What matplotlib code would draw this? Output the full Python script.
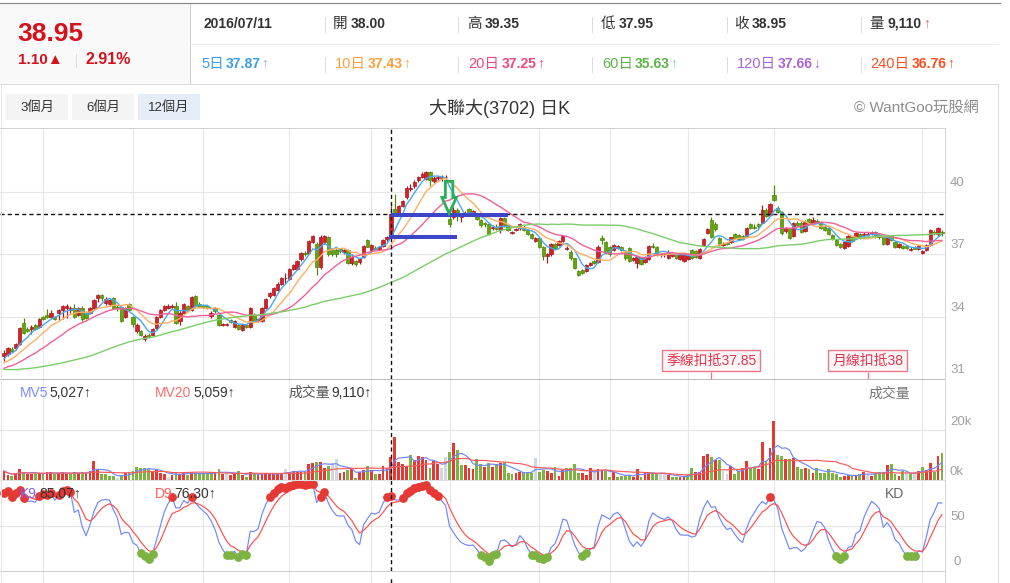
import numpy as np
import pandas as pd
import matplotlib
matplotlib.use('Agg')
import matplotlib.pyplot as plt
from matplotlib.lines import Line2D
from matplotlib.patches import Rectangle, Polygon

W, H = 1010, 583
FAM = ['Liberation Sans', 'Noto Sans CJK TC', 'DejaVu Sans']
plt.rcParams['font.family'] = FAM

# ---------------- data ----------------
opens = [
32.10, 32.20, 32.45, 32.50, 32.70, 33.70, 33.40, 33.40, 33.60, 33.50,
34.00, 34.10, 34.00, 34.00, 34.20, 34.30, 34.40, 34.30, 34.40, 34.10,
34.40, 34.20, 34.20, 34.40, 34.90, 35.05, 34.65, 34.60, 34.90, 34.45,
34.45, 34.00, 34.60, 34.00, 33.30, 33.30, 32.90, 33.10, 33.10, 33.45,
34.00, 34.30, 34.40, 34.48, 34.50, 33.80, 34.20, 34.50, 34.30, 35.00,
34.60, 34.55, 34.50, 34.05, 34.40, 34.10, 33.60, 33.60, 33.82, 33.50,
33.60, 33.38, 33.60, 33.50, 34.10, 33.80, 33.80, 34.40, 34.98, 35.06,
35.30, 35.60, 35.85, 35.80, 36.30, 36.30, 36.77, 37.08, 37.09, 37.60,
37.50, 36.40, 37.60, 37.85, 37.20, 37.20, 37.25, 37.10, 37.20, 36.60,
36.70, 36.66, 36.90, 37.70, 37.20, 37.30, 37.25, 37.40, 37.75, 38.00,
39.20, 39.00, 39.33, 39.78, 40.15, 40.29, 40.58, 40.74, 40.66, 40.98,
40.54, 40.68, 40.70, 40.72, 38.70, 38.80, 39.17, 38.80, 38.93, 39.20,
38.98, 38.90, 38.66, 38.50, 38.46, 38.28, 38.35, 38.18, 38.74, 38.40,
38.06, 38.20, 38.26, 38.33, 38.20, 38.00, 37.66, 37.78, 37.38, 36.93,
37.00, 37.50, 37.46, 37.66, 37.28, 37.14, 36.82, 36.20, 36.25, 36.20,
36.50, 36.70, 36.66, 37.78, 37.60, 37.38, 37.22, 37.30, 37.35, 37.10,
37.30, 36.75, 36.58, 36.85, 36.66, 36.80, 37.40, 37.38, 36.97, 37.00,
36.85, 36.95, 37.00, 36.80, 36.70, 36.80, 37.20, 37.18, 36.85, 37.46,
38.05, 38.66, 38.46, 37.78, 37.45, 37.55, 37.60, 38.00, 37.94, 37.90,
37.90, 38.46, 38.35, 38.46, 38.50, 39.17, 38.90, 39.86, 39.26, 39.06,
38.14, 38.26, 37.90, 38.53, 38.53, 38.14, 38.70, 38.55, 38.62, 38.53,
38.34, 38.26, 37.94, 37.70, 37.50, 37.30, 37.40, 37.82, 37.82, 38.00,
37.94, 37.94, 37.98, 38.10, 37.94, 37.86, 37.50, 37.90, 37.62, 37.34,
37.42, 37.42, 37.20, 37.38, 37.25, 37.06, 37.22, 37.46, 38.10, 37.97,
38.10]

highs = [
32.40, 32.55, 32.55, 32.75, 33.50, 33.95, 33.50, 33.60, 33.65, 33.95,
34.05, 34.35, 34.30, 34.05, 34.35, 34.55, 34.60, 34.50, 34.60, 34.45,
34.50, 34.25, 34.45, 34.85, 35.10, 35.10, 34.95, 34.85, 34.95, 34.55,
34.50, 34.45, 34.65, 34.05, 33.70, 33.35, 33.15, 33.20, 33.45, 34.05,
34.35, 34.55, 34.60, 34.60, 34.70, 34.25, 34.65, 34.55, 35.00, 35.05,
34.70, 34.60, 34.55, 34.25, 34.45, 34.15, 33.70, 33.70, 33.90, 33.85,
33.65, 33.65, 33.65, 34.45, 34.20, 33.95, 34.45, 34.90, 35.20, 35.45,
35.65, 35.90, 36.10, 36.35, 36.55, 36.75, 37.10, 37.15, 37.70, 37.95,
37.60, 37.95, 37.95, 37.90, 37.30, 37.30, 37.30, 37.25, 37.25, 37.00,
36.75, 36.85, 37.45, 37.75, 37.50, 37.40, 37.40, 37.75, 37.90, 39.35,
39.94, 39.40, 39.65, 40.30, 40.40, 40.60, 40.80, 41.00, 41.05, 41.05,
40.80, 40.80, 40.85, 40.85, 39.30, 39.30, 39.25, 39.00, 39.10, 39.25,
39.15, 38.95, 38.70, 38.55, 38.50, 38.40, 38.45, 38.80, 38.80, 38.45,
38.15, 38.30, 38.50, 38.40, 38.25, 38.05, 37.85, 37.85, 37.40, 37.05,
37.55, 37.55, 37.70, 37.95, 37.40, 37.20, 36.85, 36.25, 36.30, 36.55,
36.65, 36.75, 37.45, 37.95, 37.65, 37.40, 37.50, 37.45, 37.40, 37.15,
37.35, 36.90, 36.95, 36.90, 36.95, 37.45, 37.55, 37.40, 37.05, 37.05,
37.20, 37.05, 37.05, 37.00, 37.05, 37.00, 37.25, 37.20, 37.30, 37.80,
38.30, 38.80, 38.55, 37.85, 37.60, 37.60, 37.85, 38.05, 37.98, 37.95,
38.35, 38.50, 38.45, 38.50, 39.40, 39.25, 39.50, 40.34, 39.35, 39.10,
38.35, 38.30, 38.55, 38.60, 38.60, 38.65, 38.75, 38.80, 38.70, 38.60,
38.40, 38.30, 37.98, 37.75, 37.55, 37.65, 37.95, 37.90, 38.10, 38.05,
38.10, 38.10, 38.15, 38.15, 37.98, 37.90, 37.95, 37.95, 37.65, 37.55,
37.45, 37.45, 37.35, 37.40, 37.45, 37.20, 37.50, 38.25, 38.20, 38.35,
38.20]

lows = [
31.85, 32.10, 32.30, 32.40, 32.65, 33.15, 33.25, 33.15, 33.35, 33.45,
33.85, 33.95, 33.95, 33.85, 33.85, 33.90, 33.95, 34.20, 33.95, 34.05,
33.80, 33.90, 34.15, 34.35, 34.70, 34.75, 34.55, 34.50, 34.40, 34.25,
33.75, 33.95, 34.25, 33.50, 33.20, 33.05, 32.85, 32.95, 33.05, 33.40,
33.95, 34.25, 34.35, 34.40, 33.65, 33.60, 34.15, 34.25, 34.25, 34.45,
34.45, 34.40, 34.35, 33.95, 34.20, 33.55, 33.55, 33.55, 33.70, 33.45,
33.35, 33.30, 33.45, 33.45, 33.75, 33.75, 33.75, 34.35, 34.90, 35.00,
35.25, 35.55, 35.60, 35.75, 36.25, 36.25, 36.70, 36.95, 37.05, 37.55,
36.00, 36.30, 37.50, 36.95, 36.95, 36.90, 37.05, 37.00, 36.55, 36.50,
36.45, 36.55, 36.85, 37.35, 37.10, 37.20, 37.20, 37.35, 37.65, 37.95,
38.90, 38.95, 39.30, 39.70, 40.05, 40.20, 40.50, 40.70, 40.60, 40.30,
40.45, 40.55, 40.55, 40.55, 38.35, 38.70, 38.60, 38.55, 38.85, 38.90,
38.85, 38.65, 38.35, 38.35, 37.95, 38.20, 38.20, 38.05, 38.35, 38.15,
38.00, 38.15, 38.20, 38.15, 37.95, 37.75, 37.60, 37.30, 36.75, 36.60,
36.95, 37.25, 37.40, 37.60, 37.20, 36.75, 36.30, 35.95, 36.05, 36.15,
36.45, 36.55, 36.60, 37.50, 37.00, 36.95, 37.15, 37.25, 37.15, 36.75,
36.65, 36.70, 36.35, 36.50, 36.60, 36.75, 37.30, 36.95, 36.90, 36.90,
36.80, 36.90, 36.80, 36.75, 36.65, 36.75, 36.80, 36.85, 36.80, 37.40,
38.00, 37.80, 38.15, 37.40, 37.40, 37.45, 37.55, 37.75, 37.70, 37.70,
37.85, 38.25, 38.25, 38.30, 38.45, 38.80, 38.85, 39.60, 39.00, 37.95,
38.05, 37.75, 37.85, 38.35, 38.05, 38.10, 38.45, 38.50, 38.50, 38.25,
38.15, 37.95, 37.70, 37.40, 37.30, 37.25, 37.35, 37.60, 37.75, 37.75,
37.90, 37.90, 37.95, 37.80, 37.75, 37.45, 37.45, 37.65, 37.30, 37.30,
37.25, 37.25, 37.15, 37.25, 37.20, 37.00, 37.15, 37.40, 37.95, 37.90,
37.90]

closes = [
32.26, 32.50, 32.35, 32.70, 33.45, 33.20, 33.30, 33.50, 33.40, 33.90,
33.88, 34.00, 34.20, 33.90, 34.30, 34.50, 34.52, 34.40, 34.00, 34.40,
33.90, 33.95, 34.40, 34.80, 35.05, 34.90, 34.85, 34.80, 34.40, 34.40,
33.80, 34.40, 34.30, 33.65, 33.60, 33.10, 33.05, 33.00, 33.40, 34.00,
34.30, 34.50, 34.50, 34.52, 33.70, 34.20, 34.60, 34.30, 34.95, 34.50,
34.48, 34.45, 34.40, 34.20, 34.25, 33.60, 33.65, 33.65, 33.75, 33.80,
33.40, 33.58, 33.50, 34.40, 33.80, 33.90, 34.40, 34.85, 35.14, 35.40,
35.60, 35.85, 35.85, 36.30, 36.50, 36.70, 37.06, 37.03, 37.65, 37.90,
36.40, 37.85, 37.90, 37.00, 37.00, 37.00, 37.15, 37.20, 36.60, 36.90,
36.55, 36.77, 37.40, 37.38, 37.45, 37.25, 37.35, 37.70, 37.85, 38.95,
39.00, 39.33, 39.57, 40.23, 40.20, 40.50, 40.74, 40.90, 40.98, 40.60,
40.70, 40.73, 40.73, 40.73, 38.45, 39.14, 38.98, 38.95, 38.97, 39.00,
39.10, 38.70, 38.40, 38.45, 38.00, 38.33, 38.25, 38.74, 38.40, 38.20,
38.10, 38.25, 38.45, 38.20, 38.00, 37.80, 37.80, 37.38, 36.93, 37.00,
37.50, 37.30, 37.66, 37.90, 37.32, 36.82, 36.34, 36.00, 36.10, 36.50,
36.60, 36.60, 37.38, 37.70, 37.06, 37.00, 37.46, 37.40, 37.20, 36.82,
36.70, 36.85, 36.90, 36.55, 36.90, 37.42, 37.35, 37.00, 37.00, 37.00,
37.14, 37.00, 36.85, 36.98, 37.00, 36.95, 36.85, 36.90, 37.26, 37.74,
38.22, 37.85, 38.22, 37.50, 37.50, 37.50, 37.82, 37.78, 37.73, 37.75,
38.30, 38.28, 38.26, 38.36, 39.17, 38.85, 39.45, 39.65, 39.06, 38.05,
38.26, 37.78, 38.50, 38.42, 38.10, 38.58, 38.50, 38.66, 38.55, 38.30,
38.20, 38.00, 37.73, 37.46, 37.38, 37.62, 37.90, 37.66, 38.05, 37.78,
38.00, 38.00, 38.10, 37.86, 37.82, 37.50, 37.90, 37.70, 37.38, 37.50,
37.30, 37.30, 37.28, 37.28, 37.42, 37.18, 37.46, 38.20, 38.02, 38.30,
38.02]

# volume in thousands of shares
volumes = [
3.6, 2.0, 1.6, 2.7, 4.4, 3.1, 2.4, 2.4, 2.5, 2.9,
2.4, 3.1, 3.1, 2.4, 2.9, 3.1, 2.5, 2.3, 3.1, 2.9,
3.1, 2.7, 3.7, 7.6, 4.3, 2.4, 2.3, 1.6, 1.6, 0.9,
2.0, 2.9, 3.3, 3.7, 5.1, 4.7, 4.7, 4.3, 3.3, 4.3,
2.7, 2.4, 1.3, 2.0, 3.1, 2.4, 3.3, 2.0, 2.9, 2.4,
2.4, 2.7, 2.9, 2.4, 3.3, 4.4, 2.4, 2.9, 2.0, 2.4,
3.6, 2.0, 1.3, 3.3, 2.7, 2.0, 2.7, 2.4, 2.4, 2.4,
2.4, 2.5, 4.3, 3.3, 3.6, 3.3, 3.3, 3.7, 6.3, 7.0,
7.1, 7.1, 4.9, 5.7, 6.7, 8.4, 2.9, 3.3, 4.0, 4.4,
0.9, 3.3, 4.0, 5.6, 4.0, 2.4, 2.4, 5.7, 4.7, 9.11,
17.3, 7.1, 6.4, 5.7, 10.0, 8.0, 9.6, 9.3, 8.0, 4.9,
7.6, 6.3, 4.7, 9.3, 11.1, 14.7, 12.0, 6.0, 6.0, 4.7,
4.3, 8.3, 6.3, 5.3, 6.7, 5.3, 6.3, 6.7, 7.1, 2.7,
2.3, 2.9, 3.1, 3.1, 3.3, 2.9, 8.7, 3.3, 3.9, 3.6,
2.9, 5.1, 1.7, 4.0, 4.7, 4.7, 6.3, 2.7, 2.9, 2.0,
4.7, 3.7, 4.3, 4.0, 3.6, 1.3, 3.3, 1.3, 1.6, 1.7,
2.0, 1.3, 4.3, 1.3, 2.7, 3.3, 2.7, 2.4, 2.4, 2.4,
2.0, 1.1, 1.1, 1.3, 1.3, 2.0, 4.7, 3.3, 3.3, 9.6,
10.3, 9.1, 8.0, 8.0, 3.6, 2.3, 5.6, 2.3, 3.6, 4.9,
7.6, 4.9, 4.9, 4.4, 15.3, 7.6, 12.7, 23.6, 10.0, 9.6,
8.4, 8.4, 8.7, 5.3, 4.3, 4.9, 4.3, 2.9, 4.7, 2.9,
2.7, 4.4, 2.9, 2.4, 1.1, 1.6, 2.0, 2.0, 2.0, 2.4,
3.1, 2.4, 1.7, 2.9, 3.1, 3.1, 6.0, 6.3, 2.4, 1.7,
3.6, 3.3, 2.4, 2.7, 3.6, 5.3, 4.0, 6.7, 3.3, 9.7,
11.0]

# closes before the visible window (off-chart), estimated from where the MA lines start
prior_closes = [
32.6, 32.5, 32.7, 32.4, 32.3, 32.5, 32.2, 32.0, 32.1, 32.3,
32.0, 31.8, 32.0, 32.2, 31.9, 31.7, 31.8, 31.5, 31.6, 31.4,
31.2, 31.0, 30.8, 30.9, 30.6, 30.4, 30.5, 30.2, 30.0, 30.3,
30.6, 30.4, 30.8, 31.0, 30.7, 31.1, 31.3, 31.0, 31.2, 31.4,
31.0, 31.3, 31.1, 31.4, 31.2, 31.0, 31.3, 31.5, 31.2, 31.4,
31.6, 31.3, 31.5, 31.7, 31.8, 31.6, 31.9, 32.1, 32.0]
K_START, D_START = 92.0, 88.0      # KD level at the left edge

month_starts = [10, 33, 51, 73, 94, 114, 137, 155, 175, 197, 235]
price_ticks = [40, 37, 34, 31]
vol_ticks = [20, 0]
kd_ticks = [50, 0]

hover = 99                          # crosshair day
hover_date = '2016/07/11'
ma_labels = ['5日', '10日', '20日', '60日', '120日', '240日']
ma_values = [37.87, 37.43, 37.25, 35.63, 37.66, 36.76]
ma_arrows = ['↑', '↑', '↑', '↑', '↓', '↑']
mv5_hover, mv20_hover = 5027, 5059
k_hover, d_hover = 85.07, 76.30
ma_periods = [5, 10, 20, 60]

for arr in (opens, highs, lows, closes, volumes):
    assert len(arr) == 241, len(arr)
assert len(prior_closes) == 59

# ---------------- derived ----------------
o = np.array(opens); h = np.array(highs); l = np.array(lows); c = np.array(closes)
v = np.array(volumes)
N = len(c)
idx = np.arange(N)
allc = pd.Series(list(prior_closes) + list(closes))
mas = {p: allc.rolling(p, min_periods=1).mean().values[-N:] for p in ma_periods}
mv5 = pd.Series(v).rolling(5, min_periods=1).mean().values
mv20 = pd.Series(v).rolling(20, min_periods=1).mean().values
hh = pd.Series(h).rolling(9, min_periods=1).max().values
ll = pd.Series(l).rolling(9, min_periods=1).min().values
rsv = (c - ll) / (hh - ll) * 100
K = np.zeros(N); D = np.zeros(N)
k_, d_ = K_START, D_START
for i in range(N):
    k_ = 2 / 3 * k_ + rsv[i] / 3
    d_ = 2 / 3 * d_ + k_ / 3
    K[i], D[i] = k_, d_
prevc = np.concatenate([[prior_closes[-1]], c[:-1]])

# ---------------- layout helpers ----------------
STEP, X0 = 3.908, 4.0     # px per candle, px of first candle
PLOT_R = 945
fig = plt.figure(figsize=(W / 100, H / 100), dpi=100)
fig.patch.set_facecolor('white')

def fl(x0, y0, x1, y1, color, lw=1.0, **kw):
    fig.add_artist(Line2D([x0 / W, x1 / W], [1 - y0 / H, 1 - y1 / H], color=color,
                          lw=lw * 0.72, transform=fig.transFigure, **kw))

def T(px, py, s, size, color, weight='normal', ha='left', va='center', **kw):
    fig.text(px / W, 1 - py / H, s, fontsize=size, color=color, fontweight=weight,
             ha=ha, va=va, **kw)

def add_ax(y0, y1, ylim):
    ax = fig.add_axes([0, 1 - y1 / H, PLOT_R / W, (y1 - y0) / H])
    ax.set_axis_off()
    ax.set_xlim((0 - X0) / STEP, (PLOT_R - X0) / STEP)
    ax.set_ylim(*ylim)
    return ax

# price scale: 40 at y=192.3, 20.73 px per unit
def p_at(py):
    return 40 - (py - 192.3) / 20.73

ax_p = add_ax(128, 379, (p_at(379), p_at(128)))
ax_v = add_ax(379, 480, (0, 101 / 2.5))
ax_k = add_ax(480, 571, (0, 91 / 0.9))
ax_b = add_ax(571, 583, (0, 1))

GRID = '#e6e6e6'
for ax in (ax_p, ax_v, ax_k, ax_b):
    for m in month_starts:
        ax.axvline(m, color=GRID, lw=0.8, zorder=0)
for t in price_ticks[:-1]:
    ax_p.axhline(t, color=GRID, lw=0.8, zorder=0)
ax_v.axhline(20, color=GRID, lw=0.8, zorder=0)
ax_k.axhline(50, color=GRID, lw=0.8, zorder=0)

# ---------------- header ----------------
fig.add_artist(Rectangle((0, 1 - 84 / H), 190 / W, 80 / H, transform=fig.transFigure,
                         fc='#f9f9f9', ec='none'))
fl(0, 3, 1000, 3, '#8a8a8a', 1.2)
fl(190, 4, 190, 84, '#cfcfcf')
fl(190, 44, 998, 44, '#ececec')
fl(0, 84, 998, 84, '#dcdcdc')
for xs in (325, 458, 592, 727, 861):
    fl(xs, 17, xs, 32, '#dddddd')
    fl(xs, 57, xs, 72, '#dddddd')
fl(76, 54, 76, 67, '#dddddd')

RED_T = '#d3121c'
T(17, 34, f'{c[hover]:.2f}', 19, RED_T, 'bold')
chg = c[hover] - c[hover - 1]
T(18, 60, f'{chg:.2f}▲', 11, RED_T, 'bold')
T(86, 60, f'{chg / c[hover - 1] * 100:.2f}%', 11.5, RED_T, 'bold')

T(203, 24, hover_date, 10, '#333333', 'bold')
row1 = [(333, '開', o[hover]), (467, '高', h[hover]), (601, '低', l[hover]), (734, '收', c[hover])]
for x, lab, val in row1:
    T(x, 24, lab, 10.5, '#333333')
    T(x + 18, 24, f'{val:.2f}', 10, '#333333', 'bold')
T(869, 24, '量', 10.5, '#333333')
T(888, 24, f'{v[hover] * 1000:,.0f}', 10, '#333333', 'bold')
T(923, 24, '↑', 10, '#e06666')

ma_cols = ['#3d9be9', '#ff9d3b', '#f4467f', '#5cb448', '#a664d6', '#ff4d1f']
arr_cols = ['#b39ddb', '#ff9d3b', '#f4467f', '#80cbc4', '#a664d6', '#ff4d1f']
row2_x = [(201, 226), (335, 368), (468, 502), (602, 635), (737, 778), (870, 912)]
for (xl, xv), lab, val, ar, col, acol in zip(row2_x, ma_labels, ma_values, ma_arrows, ma_cols, arr_cols):
    T(xl, 64, lab, 10.5, col)
    T(xv, 64, f'{val:.2f}', 10, col, 'bold')
    T(xv + 35, 64, ar, 10, acol)

# buttons + title
for (x0, x1, lab, bg) in [(6, 68, '3個月', '#f4f4f4'), (72, 134, '6個月', '#f4f4f4'),
                          (138, 200, '12個月', '#e5edf8')]:
    fig.add_artist(Rectangle((x0 / W, 1 - 120 / H), (x1 - x0) / W, 26 / H,
                             transform=fig.transFigure, fc=bg, ec='none'))
    T((x0 + x1) / 2, 107.5, lab, 9.5, '#333333', ha='center')
T(500, 108, '大聯大(3702) 日K', 13, '#333333', ha='center')
T(979, 108, '© WantGoo玩股網', 11, '#8c8c8c', ha='right')

# frame lines
fl(0, 128, PLOT_R, 128, '#d0d0d0')
fl(0, 379, PLOT_R, 379, '#bdbdbd')
fl(0, 480, PLOT_R, 480, '#e0e0e0')
fl(0, 571, PLOT_R, 571, '#cfcfcf')
fl(PLOT_R, 128, PLOT_R, 583, '#d6d6d6')
fl(998, 84, 998, 583, '#dcdcdc')
fl(0.5, 84, 0.5, 583, '#e4e4e4')

# ---------------- candles ----------------
RED_F, RED_E = '#d2232a', '#a8161c'
GRN_F, GRN_E = '#62a70f', '#4a8600'
up = c >= o
fills = np.where(up, RED_F, GRN_F)
edges = np.where(up, RED_E, GRN_E)
ax_p.vlines(idx, l, h, colors=edges, lw=0.85, zorder=3)
body_lo = np.minimum(o, c)
body_h = np.maximum(np.abs(c - o), 0.04)
ax_p.bar(idx, body_h, bottom=body_lo, width=0.84, color=fills, edgecolor=edges,
         linewidth=0.5, zorder=4)

ma_line_cols = {5: '#4aa8f0', 10: '#ffae63', 20: '#f0609a', 60: '#7ccd6a'}
for p in ma_periods:
    ax_p.plot(idx, mas[p], color=ma_line_cols[p], lw=1.0, zorder=5)

# crosshair
for ax in (ax_p, ax_v, ax_k):
    ax.axvline(hover, color='#111111', lw=1.0, ls=(0, (3, 2.2)), zorder=8)
ax_b.axvline(hover, ymax=0.5, color='#111111', lw=1.0, ls=(0, (3, 2.2)), zorder=8)
ax_p.axhline(c[hover], color='#111111', lw=1.0, ls=(0, (3, 2.2)), zorder=8)

# hand-drawn annotations (blue support lines, green arrow)
ax_p.hlines(38.90, hover, 129, color='#3d46c8', lw=2.9, zorder=9)
ax_p.hlines(37.83, hover - 0.6, 116, color='#3d46c8', lw=2.9, zorder=9)
ax_c = 114 - 0.1
arrow = [(ax_c - 0.95, 40.53), (ax_c + 0.95, 40.53), (ax_c + 0.95, 39.75),
         (ax_c + 1.85, 39.75), (ax_c, 38.98), (ax_c - 1.85, 39.75), (ax_c - 0.95, 39.75)]
ax_p.add_patch(Polygon(arrow, closed=True, fc='none', ec='#27b05a', lw=2.0, zorder=10,
                       joinstyle='miter'))

# deduction labels (季線 = 60-day, 月線 = 20-day)
for n, lab in [(60, '季線扣抵'), (20, '月線扣抵')]:
    j = N - n
    ax_p.vlines(j, p_at(379), p_at(371.5), color='#e8798a', lw=1.0, zorder=6)
    ax_p.text(j, p_at(360.5), f'{lab}{c[j]:g}', ha='center', va='center', fontsize=10,
              color='#e5334b', zorder=11,
              bbox=dict(boxstyle='square,pad=0.28', fc='#fff6f7', ec='#e8798a', lw=1.0))

# ---------------- volume ----------------
vcol = np.where(c > prevc + 1e-9, '#e53935', np.where(c < prevc - 1e-9, '#7cb342', '#cfd8dc'))
ax_v.bar(idx, v, width=0.72, color=vcol, zorder=3)
ax_v.plot(idx, mv5, color='#6f86ff', lw=0.85, zorder=4)
ax_v.plot(idx, mv20, color='#ff5a5a', lw=0.85, zorder=4)

# ---------------- KD ----------------
ax_k.plot(idx, K, color='#6f86ff', lw=0.85, zorder=3)
ax_k.plot(idx, D, color='#ff4d4d', lw=0.85, zorder=3)
hi = K > 80
lo = K < 20
ax_k.scatter(idx[hi], K[hi], s=40, color='#e53935', zorder=5, clip_on=False, linewidths=0)
ax_k.scatter(idx[lo], K[lo], s=40, color='#7cb342', zorder=5, clip_on=False, linewidths=0)

# ---------------- panel texts ----------------
T(20, 393, 'MV5', 10, '#7a8cff')
T(49, 393, f'{mv5_hover:,}↑', 10, '#333333')
T(155, 393, 'MV20', 10, '#ff6b6b')
T(193, 393, f'{mv20_hover:,}↑', 10, '#333333')
T(288, 393, '成交量', 10, '#555555')
T(331, 393, f'{v[hover] * 1000:,.0f}↑', 10, '#333333')
T(868, 394, '成交量', 10, '#777777')
T(20, 494, 'K9', 10, '#7b61ff', zorder=12)
T(39, 494, f'{k_hover:.2f}↑', 10, '#333333', zorder=12)
T(155, 494, 'D9', 10, '#ff5a5a', zorder=12)
T(174, 494, f'{d_hover:.2f}↑', 10, '#333333', zorder=12)
T(885, 494, 'KD', 10, '#666666')

AXC = '#a0a0a0'
for t in price_ticks:
    py = 192.3 + (40 - t) * 20.73
    T(950, py - 9, f'{t}', 9.5, AXC)
for t in vol_ticks:
    py = 480 - t * 2.5
    T(950, py - 8, f'{t}k', 9.5, AXC)
for t in kd_ticks:
    py = 571 - t * 0.9
    T(950 if t else 953, py - 9, f'{t}', 9.5, AXC)

fig.savefig('out.png', dpi=100, facecolor='white')
